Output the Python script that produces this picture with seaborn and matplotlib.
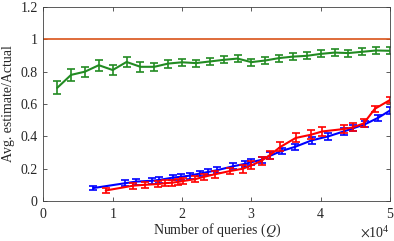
import numpy as np
import matplotlib
matplotlib.use("Agg")
import matplotlib.pyplot as plt
import seaborn as sns
from matplotlib.ticker import ScalarFormatter

# ---------------- data (x in number of queries) ----------------
GREEN_X = [2000, 4000, 6000, 8000, 10000, 12000, 14000, 16000, 18000, 20000,
           22000, 24000, 26000, 28000, 30000, 32000, 34000, 36000, 38000, 40000,
           42000, 44000, 46000, 48000, 50000]
GREEN_Y = [0.70, 0.78, 0.80, 0.84, 0.81, 0.86, 0.83, 0.83, 0.85, 0.858,
           0.853, 0.863, 0.873, 0.881, 0.859, 0.869, 0.884, 0.893, 0.898, 0.910,
           0.918, 0.915, 0.923, 0.931, 0.929]
GREEN_ERR = [0.04, 0.035, 0.03, 0.035, 0.03, 0.03, 0.03, 0.025, 0.025, 0.022,
             0.022, 0.022, 0.022, 0.022, 0.022, 0.022, 0.022, 0.022, 0.022, 0.022,
             0.022, 0.022, 0.022, 0.022, 0.022]

BLUE_X = [7200, 11800, 13400, 15600, 16700, 18700, 19900, 21100, 22600, 23800,
          25000, 27400, 29100, 30000, 31500, 32700, 34400, 36300, 38700, 41100,
          43300, 44700, 46400, 48300, 50000]
BLUE_Y = [0.08, 0.11, 0.12, 0.125, 0.13, 0.145, 0.15, 0.157, 0.17, 0.18,
          0.19, 0.215, 0.23, 0.24, 0.255, 0.28, 0.31, 0.335, 0.375, 0.40,
          0.43, 0.45, 0.475, 0.515, 0.56]
BLUE_ERR = [0.015, 0.018, 0.018, 0.018, 0.018, 0.018, 0.018, 0.018, 0.018, 0.018,
            0.018, 0.02, 0.02, 0.02, 0.02, 0.02, 0.02, 0.02, 0.02, 0.02,
            0.02, 0.02, 0.02, 0.02, 0.02]

RED_X = [9000, 13000, 14600, 16600, 17500, 18500, 19400, 20200, 21900, 23200,
         24700, 26900, 28800, 30000, 31500, 32700, 34200, 36400, 38600, 40200,
         43300, 44600, 46200, 47800, 50000]
RED_Y = [0.065, 0.095, 0.10, 0.105, 0.11, 0.113, 0.118, 0.124, 0.135, 0.15,
         0.165, 0.185, 0.20, 0.22, 0.25, 0.285, 0.335, 0.39, 0.41, 0.43,
         0.445, 0.455, 0.48, 0.57, 0.625]
RED_ERR = [0.015, 0.018, 0.018, 0.018, 0.018, 0.018, 0.018, 0.018, 0.02, 0.02,
           0.02, 0.02, 0.025, 0.025, 0.025, 0.025, 0.028, 0.028, 0.028, 0.028,
           0.025, 0.025, 0.025, 0.02, 0.02]

ACTUAL_X = [0, 50000]
ACTUAL_Y = [1.0, 1.0]

Y_TICKS = [0, 0.2, 0.4, 0.6, 0.8, 1.0, 1.2]
Y_TICK_LABELS = ["0", "0.2", "0.4", "0.6", "0.8", "1", "1.2"]
X_TICKS = [0, 10000, 20000, 30000, 40000, 50000]

# ---------------- style ----------------
sns.set_style("ticks")
plt.rcParams["font.family"] = ["Liberation Serif", "DejaVu Serif"]
plt.rcParams["mathtext.fontset"] = "stix"
plt.rcParams["font.size"] = 10

fig = plt.figure(figsize=(3.94, 2.41), dpi=100)
ax = fig.add_axes([0.110, 0.166, 0.880, 0.805])

sns.lineplot(x=ACTUAL_X, y=ACTUAL_Y, ax=ax, color="#D95319", lw=1.2)

series = [
    (GREEN_X, GREEN_Y, GREEN_ERR, "#228B22"),
    (BLUE_X, BLUE_Y, BLUE_ERR, "#0000FF"),
    (RED_X, RED_Y, RED_ERR, "#FF0000"),
]
for xs, ys, errs, col in series:
    sns.lineplot(x=xs, y=ys, ax=ax, color=col, lw=1.5, sort=False)
    ax.errorbar(xs, ys, yerr=errs, fmt="none", ecolor=col,
                elinewidth=1.2, capsize=2.8, capthick=1.2)

ax.set_xlim(0, 50000)
ax.set_ylim(0, 1.2)
ax.set_yticks(Y_TICKS)
ax.set_yticklabels(Y_TICK_LABELS)
ax.set_xticks(X_TICKS)

fmt = ScalarFormatter(useMathText=True)
fmt.set_powerlimits((0, 0))
ax.xaxis.set_major_formatter(fmt)

ax.tick_params(direction="in", top=True, right=True, length=3,
               width=0.6, color="#404040", labelsize=10, pad=4)
for sp in ax.spines.values():
    sp.set_visible(True)
    sp.set_color("#404040")
    sp.set_linewidth(0.6)

ax.set_xlabel("Number of queries ($Q$)", fontsize=10, labelpad=1)
ax.set_ylabel("Avg. estimate/Actual", fontsize=10, labelpad=4)
ax.xaxis.get_offset_text().set_fontsize(10)

fig.savefig("out.png", dpi=100)
